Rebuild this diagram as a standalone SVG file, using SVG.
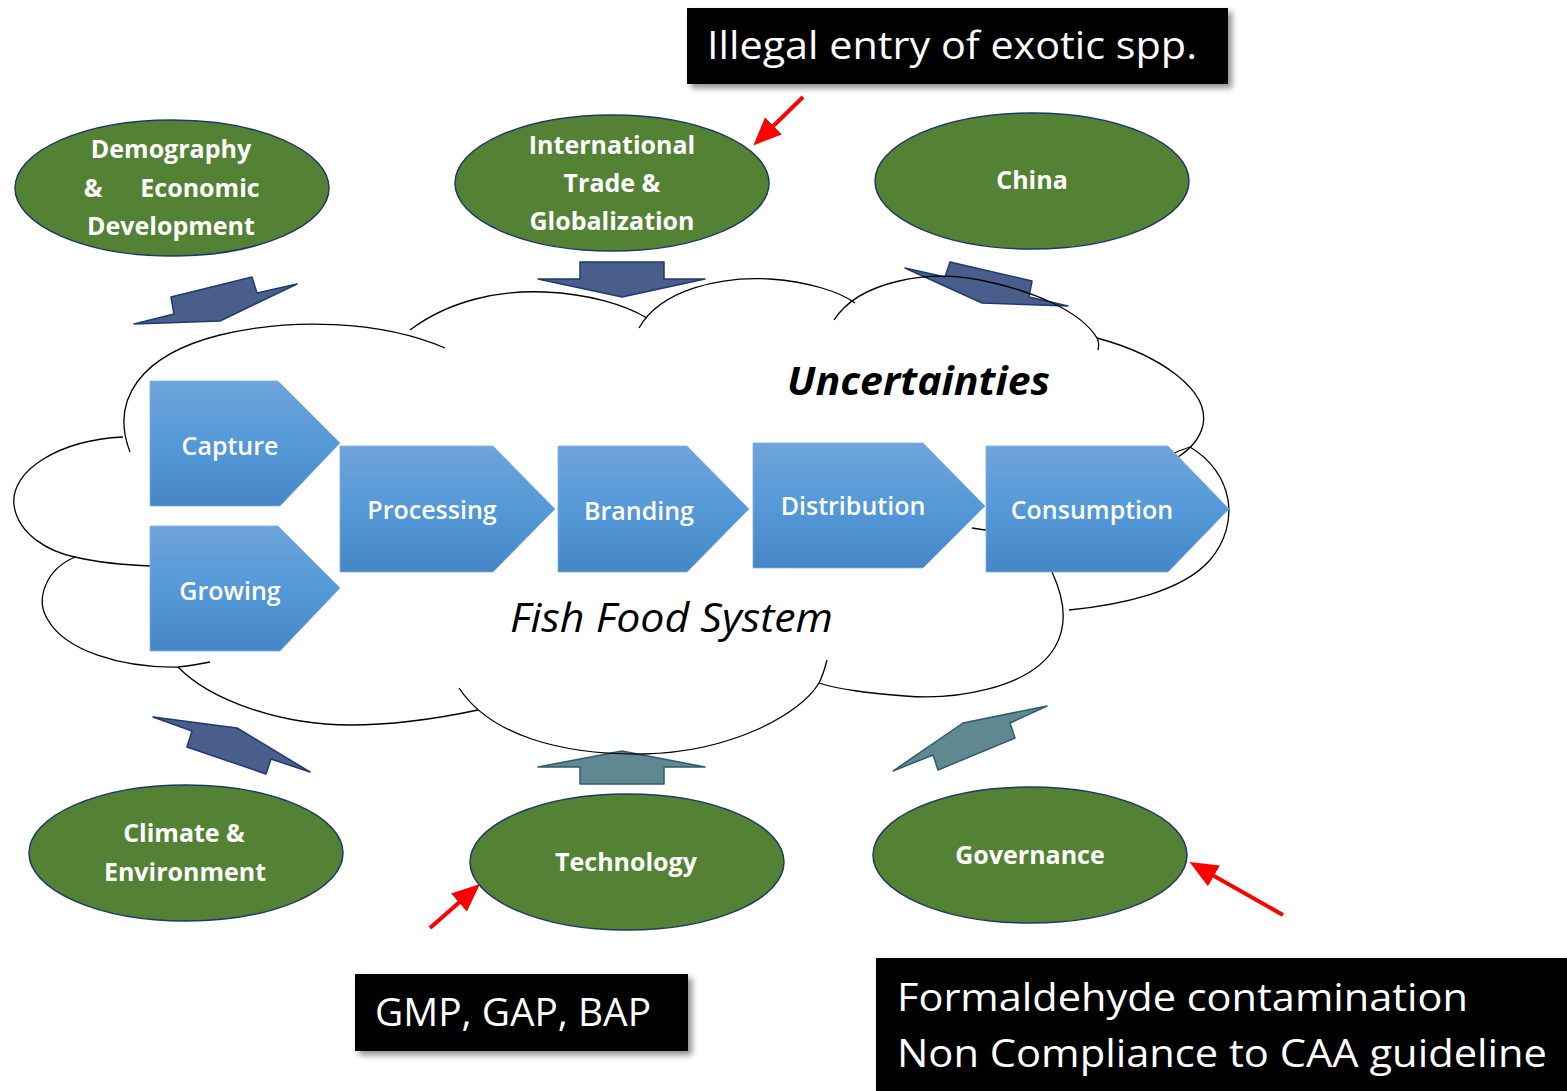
<svg xmlns="http://www.w3.org/2000/svg" width="1567" height="1091" viewBox="0 0 1567 1091">
<style>
.ell{fill:#548235;stroke:#1f3864;stroke-width:1.5}
.et{font-family:"Open Sans","Noto Sans",sans-serif;font-weight:700;font-size:25px;fill:#fff;text-anchor:middle}
.chev{fill:url(#cg);stroke:#7fb0e0;stroke-width:0.8}
.ct{font-family:"Open Sans","Noto Sans",sans-serif;font-weight:600;font-size:25px;fill:#fff;text-anchor:middle}
.cl{fill:none;stroke:#000;stroke-width:1.3}
.ba{fill:#4a5e8b;stroke:#1f3a70;stroke-width:1.5;stroke-linejoin:round}
.bt{fill:#5f8891;stroke:#2d5d6b;stroke-width:1.5;stroke-linejoin:round}
.box{fill:#000;filter:url(#sh)}
.bx{font-family:"Open Sans","Noto Sans",sans-serif;font-size:38px;fill:#fff}
.red{stroke:#ff0000;stroke-width:4;fill:none;marker-end:url(#rh)}
</style>
<defs>
<linearGradient id="cg" x1="0" y1="0" x2="0" y2="1">
<stop offset="0" stop-color="#6ea4da"/>
<stop offset="0.5" stop-color="#5599d8"/>
<stop offset="1" stop-color="#4686c6"/>
</linearGradient>
<filter id="sh" x="-10%" y="-20%" width="130%" height="160%">
<feDropShadow dx="4" dy="4" stdDeviation="3" flood-color="#000" flood-opacity="0.45"/>
</filter>
<marker id="rh" markerWidth="7" markerHeight="6" refX="4" refY="3" orient="auto" markerUnits="strokeWidth">
<path d="M0,0 L7,3 L0,6 Z" fill="#ff0000"/>
</marker>
</defs>

<g id="connectors">
<polygon id="arrow-demography" class="ba" points="171,297 252,277 257,293 297,284 220,321 134,324 174,314"/>
<polygon id="arrow-trade" class="ba" points="580,262 664,262 664,279 705,279 622,297 538,279 580,279"/>
<polygon id="arrow-china" class="ba" points="950,262 1032,281 1029,297 1068,306 982,303 905,268 945,277"/>
<polygon id="arrow-climate" class="ba" points="153,717 237,728 310,772 271,759 266,774 187,747 192,731"/>
<polygon id="arrow-technology" class="bt" points="538,767 622,751 705,767 664,767 664,784 580,784 580,767"/>
<polygon id="arrow-governance" class="bt" points="893,771 963,723 1047,706 1010,723 1015,738 938,770 933,755"/>
<line class="red" x1="803" y1="97" x2="762" y2="137"/>
<line class="red" x1="430" y1="928" x2="471" y2="892"/>
<line class="red" x1="1283" y1="915" x2="1200" y2="868"/>
</g>

<g id="cloud">
<path class="cl" d="M130,452 C110,400 140,355 220,335 C290,318 380,320 445,348"/>
<path class="cl" d="M123,437 C60,440 10,470 14,505 C18,535 50,552 75,557 C100,563 125,565 152,566"/>
<path class="cl" d="M75,557 C45,570 35,600 48,620 C65,650 120,668 178,667 C190,666 200,664 210,662"/>
<path class="cl" d="M178,667 C210,700 280,725 350,725 C400,725 445,717 478,710"/>
<path class="cl" d="M459,688 C490,735 560,755 644,754 C730,752 800,715 819,683 C823,675 825,668 827,660"/>
<path class="cl" d="M1052,572 C1065,600 1068,625 1055,647 C1030,690 950,700 905,696 C870,693 840,690 819,683"/>
<path class="cl" d="M972,528 C1050,545 1120,470 1190,447 C1232,472 1242,522 1210,560 C1182,592 1120,605 1069,610"/>
<path class="cl" d="M1097,338 C1160,355 1210,390 1203,425 C1200,438 1192,448 1178,457"/>
<path class="cl" d="M834,320 C860,280 930,270 980,280 C1030,290 1080,310 1097,338 C1099,342 1099,346 1098,350"/>
<path class="cl" d="M639,328 C660,290 720,276 770,279 C810,282 840,292 855,303"/>
<path class="cl" d="M410,330 C450,300 500,290 545,292 C590,294 625,305 647,318"/>
</g>

<g id="chevrons">
<g id="capture"><polygon class="chev" points="150,381 278,381 340,443 280,506 150,506"/><text class="ct" x="230" y="455">Capture</text></g>
<g id="growing"><polygon class="chev" points="150,526 278,526 340,588 280,651 150,651"/><text class="ct" x="230" y="600">Growing</text></g>
<g id="processing"><polygon class="chev" points="340,446 493,446 555,509 493,572 340,572"/><text class="ct" x="432" y="519">Processing</text></g>
<g id="branding"><polygon class="chev" points="558,446 687,446 749,509 687,572 558,572"/><text class="ct" x="639" y="520">Branding</text></g>
<g id="distribution"><polygon class="chev" points="753,443 923,443 985,506 923,568 753,568"/><text class="ct" x="853" y="515">Distribution</text></g>
<g id="consumption"><polygon class="chev" points="986,446 1168,446 1229,509 1168,572 986,572"/><text class="ct" x="1092" y="519">Consumption</text></g>
</g>

<g id="labels">
<text x="787" y="395" font-family="'Open Sans','Noto Sans',sans-serif" font-weight="700" font-style="italic" font-size="39" fill="#000" textLength="263" lengthAdjust="spacingAndGlyphs">Uncertainties</text>
<text x="510" y="632" font-family="'Open Sans','Noto Sans',sans-serif" font-style="italic" font-size="40" fill="#000" textLength="323" lengthAdjust="spacingAndGlyphs">Fish Food System</text>
</g>

<g id="demography"><ellipse class="ell" cx="172" cy="188" rx="157" ry="68"/>
<text class="et" x="171" y="158">Demography</text>
<text class="et" y="197"><tspan x="93">&amp;</tspan><tspan x="200">Economic</tspan></text>
<text class="et" x="171" y="235">Development</text></g>
<g id="trade"><ellipse class="ell" cx="612" cy="183" rx="157" ry="68"/>
<text class="et" x="612" y="154">International</text>
<text class="et" x="612" y="192">Trade &amp;</text>
<text class="et" x="612" y="230">Globalization</text></g>
<g id="china"><ellipse class="ell" cx="1032" cy="181" rx="157" ry="68"/>
<text class="et" x="1032" y="189">China</text></g>
<g id="climate"><ellipse class="ell" cx="186" cy="853" rx="157" ry="68"/>
<text class="et" x="184" y="842">Climate &amp;</text>
<text class="et" x="185" y="881">Environment</text></g>
<g id="technology"><ellipse class="ell" cx="627" cy="862" rx="157" ry="68"/>
<text class="et" x="626" y="871">Technology</text></g>
<g id="governance"><ellipse class="ell" cx="1030" cy="855" rx="157" ry="68"/>
<text class="et" x="1030" y="864">Governance</text></g>

<g id="note-illegal"><rect class="box" x="687" y="8" width="541" height="76"/>
<text class="bx" x="707" y="59" textLength="490" lengthAdjust="spacingAndGlyphs">Illegal entry of exotic spp.</text></g>
<g id="note-gmp"><rect class="box" x="355" y="974" width="333" height="77"/>
<text class="bx" x="375" y="1026" textLength="276" lengthAdjust="spacingAndGlyphs">GMP, GAP, BAP</text></g>
<g id="note-formaldehyde"><rect class="box" x="876" y="958" width="700" height="140"/>
<text class="bx" x="897" y="1011" textLength="571" lengthAdjust="spacingAndGlyphs">Formaldehyde  contamination</text>
<text class="bx" x="897" y="1067" textLength="650" lengthAdjust="spacingAndGlyphs">Non Compliance to CAA guideline</text></g>
</svg>
